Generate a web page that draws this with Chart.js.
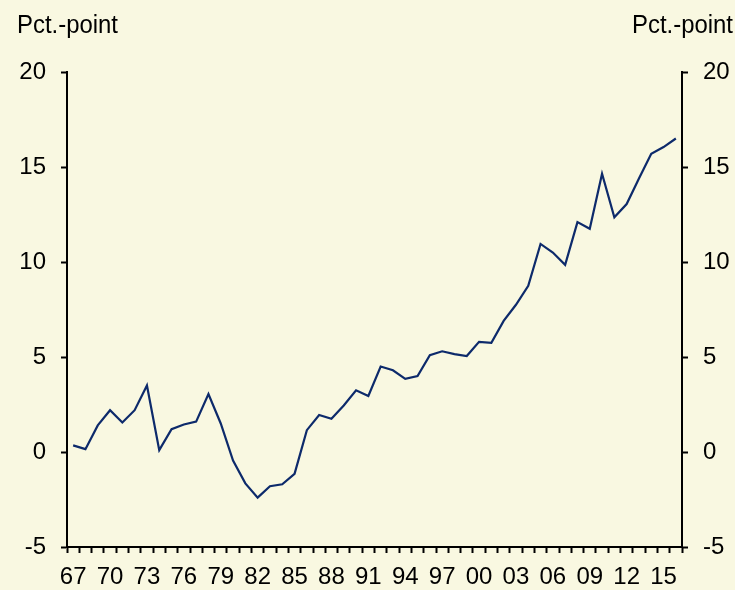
<!DOCTYPE html>
<html>
<head>
<meta charset="utf-8">
<script src="https://cdn.jsdelivr.net/npm/chart.js@4/dist/chart.umd.min.js"></script>
<style>
  html, body { margin: 0; padding: 0; background: #F9F8E1; }
  #wrap { width: 735px; height: 590px; }
</style>
</head>
<body>
<div id="wrap"><canvas id="gapChart" width="735" height="590"></canvas></div>
<script>
const years = [1967, 1968, 1969, 1970, 1971, 1972, 1973, 1974, 1975, 1976,
               1977, 1978, 1979, 1980, 1981, 1982, 1983, 1984, 1985, 1986,
               1987, 1988, 1989, 1990, 1991, 1992, 1993, 1994, 1995, 1996,
               1997, 1998, 1999, 2000, 2001, 2002, 2003, 2004, 2005, 2006,
               2007, 2008, 2009, 2010, 2011, 2012, 2013, 2014, 2015, 2016];

const values = [0.35, 0.15, 1.4, 2.2, 1.55, 2.2, 3.5, 0.1, 1.2, 1.45,
                1.6, 3.05, 1.5, -0.45, -1.65, -2.4, -1.8, -1.7, -1.15, 1.15,
                1.95, 1.75, 2.45, 3.25, 2.95, 4.5, 4.3, 3.85, 4.0, 5.1,
                5.3, 5.15, 5.05, 5.8, 5.75, 6.9, 7.75, 8.75, 10.95, 10.5,
                9.85, 12.1, 11.75, 14.65, 12.35, 13.05, 14.4, 15.7, 16.05, 16.5];

const yTicks = [-5, 0, 5, 10, 15, 20];
const unitLabel = 'Pct.-point';

const FONT = '"Liberation Sans Narrow", "Arial Narrow", "Liberation Sans", Arial, sans-serif';
const BG = '#F9F8E1';

// background fill + the two "Pct.-point" unit labels above the axes
const bgAndTitles = {
    id: 'bgAndTitles',
    beforeDraw(chart) {
        const c = chart.ctx;
        c.save();
        c.fillStyle = BG;
        c.fillRect(0, 0, chart.width, chart.height);
        c.restore();
    },
    afterDraw(chart) {
        const c = chart.ctx;
        c.save();
        c.font = '26px ' + FONT;
        c.fillStyle = '#000';
        c.textBaseline = 'alphabetic';
        const w = c.measureText(unitLabel).width;
        const sx = 101 / w; // squeeze to the narrow look of the original
        c.save();
        c.translate(17, 33);
        c.scale(sx, 1);
        c.textAlign = 'left';
        c.fillText(unitLabel, 0, 0);
        c.restore();
        c.save();
        c.translate(733, 33);
        c.scale(sx, 1);
        c.textAlign = 'right';
        c.fillText(unitLabel, 0, 0);
        c.restore();
        c.restore();
    }
};

const axisY = (pos, width) => ({
    type: 'linear',
    position: pos,
    min: yTicks[0],
    max: yTicks[yTicks.length - 1],
    afterBuildTicks: (scale) => { scale.ticks = yTicks.map(v => ({ value: v })); },
    afterFit: (scale) => { scale.width = width; },
    border: { display: true, color: '#000', width: 2 },
    grid: { drawOnChartArea: false, drawTicks: true, tickLength: 6, tickWidth: 2, tickColor: '#000' },
    ticks: { color: '#000', padding: 15, font: { family: FONT, size: 24 } }
});

const ctx = document.getElementById('gapChart').getContext('2d');

new Chart(ctx, {
    type: 'line',
    data: {
        labels: years,
        datasets: [{
            data: values,
            borderColor: '#0D2A6B',
            borderWidth: 2.2,
            pointRadius: 0,
            tension: 0,
            fill: false,
            yAxisID: 'y'
        }]
    },
    options: {
        responsive: false,
        animation: false,
        layout: { padding: { top: 72, left: 0, right: 0, bottom: 0 } },
        plugins: { legend: { display: false }, tooltip: { enabled: false } },
        scales: {
            x: {
                type: 'category',
                offset: true,
                afterFit: (scale) => { scale.height = 43; },
                border: { display: true, color: '#000', width: 2 },
                grid: { offset: true, drawOnChartArea: false, drawTicks: true, tickLength: 6, tickWidth: 2, tickColor: '#000' },
                ticks: {
                    color: '#000',
                    autoSkip: false,
                    maxRotation: 0,
                    padding: 10,
                    font: { family: FONT, size: 24 },
                    callback: function (val, i) {
                        return i % 3 === 0 ? String(years[i] % 100).padStart(2, '0') : '';
                    }
                }
            },
            y: axisY('left', 67),
            y2: axisY('right', 53)
        }
    },
    plugins: [bgAndTitles]
});
</script>
</body>
</html>
